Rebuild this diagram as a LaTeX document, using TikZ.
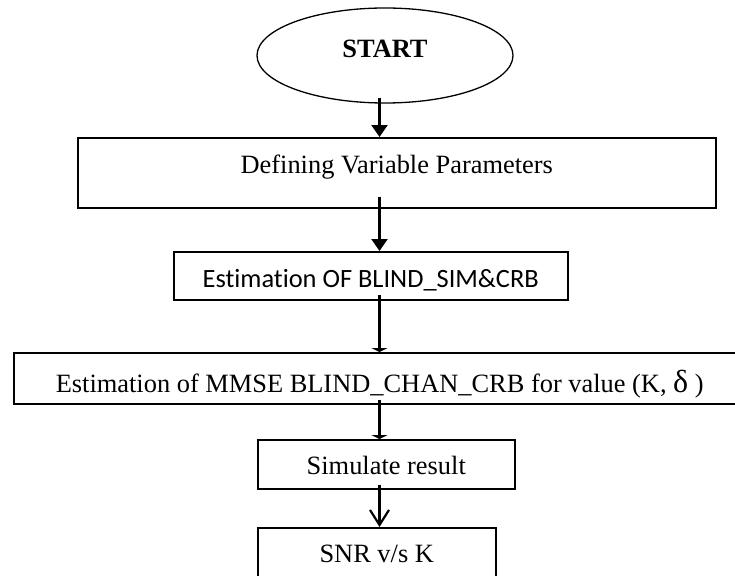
\documentclass[tikz,border=0pt]{standalone}
\usepackage{fontspec}
\setmainfont{Liberation Serif}
\newfontfamily\calibri[Ligatures=NoCommon]{Carlito}
\usetikzlibrary{arrows.meta,shapes.geometric,calc}
\begin{document}
\begin{tikzpicture}[x=1pt,y=-1pt,
  txt/.style={font=\fontsize{26.4}{30}\selectfont},
  box/.style={txt, draw, line width=1.5pt, rectangle, inner sep=0pt, anchor=north west},
  conn/.style={line width=2.2pt},
  fillarrow/.style={conn, -{Triangle[width=16pt,length=12pt]}},
  bararrow/.style={conn, -{Triangle[width=16pt,length=4pt]}},
  openarrow/.style={conn, -{Straight Barb[width=19pt,length=15pt,line width=2.2pt]}}]
\useasboundingbox (0,0) rectangle (735,575);
\coordinate (ax) at (379.5,0);

\node[draw, ellipse, line width=1.3pt, inner sep=0pt, minimum width=256pt, minimum height=95pt,
      font=\fontsize{26.4}{30}\selectfont\bfseries, text height=17.5pt, text depth=12.6pt]
      (start) at (385,55.5) {START};

\node[box, minimum width=638pt, minimum height=70pt, text height=17.5pt, text depth=17pt]
      (b1) at (77,137) {Defining Variable Parameters};

\node[box, minimum width=394pt, minimum height=48pt, text height=24.4pt, text depth=0pt,
      font=\fontsize{26.4}{30}\calibri]
      (b2) at (173,251) {Estimation OF BLIND\_SIM\&CRB};

\node[box, minimum width=732pt, minimum height=51pt, text height=27.5pt, text depth=0pt]
      (b3) at (13,352) {Estimation of MMSE BLIND\_CHAN\_CRB for value (K, {\fontsize{32}{30}\selectfont δ} )};

\node[box, minimum width=257pt, minimum height=49pt, text height=20.5pt, text depth=0pt]
      (sim) at (257,439) {Simulate result};

\node[box, minimum width=238pt, minimum height=60pt, text height=17.5pt, text depth=9pt]
      (snr) at (257,527) {SNR v/s K};

\draw[fillarrow] ($(start.south -| ax)+(0,-6)$) -- (b1.north -| ax);
\draw[fillarrow] ($(b1.south -| ax)+(0,-12)$) -- (b2.north -| ax);
\draw[bararrow] ($(b2.south -| ax)+(0,-6)$) -- (b3.north -| ax);
\draw[bararrow] ($(b3.south -| ax)+(0,-5)$) -- (sim.north -| ax);
\draw[openarrow] ($(sim.south -| ax)+(0,-5)$) -- (snr.north -| ax);
\end{tikzpicture}
\end{document}
